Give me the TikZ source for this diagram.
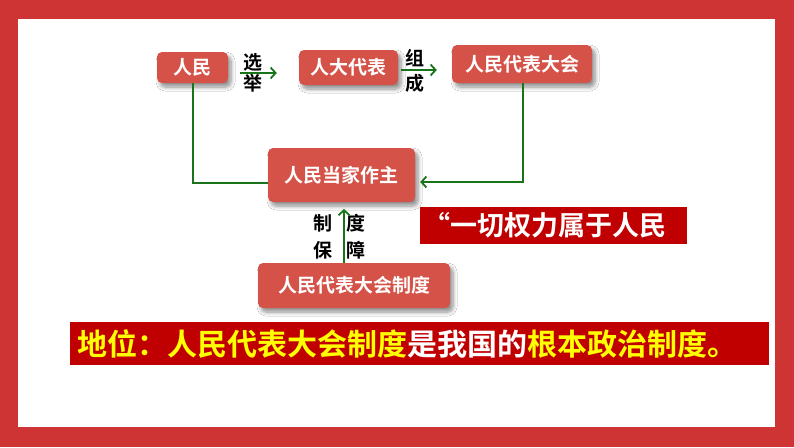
\documentclass[tikz,border=0pt]{standalone}
\usepackage{fontspec}
\setmainfont{Noto Sans CJK SC}[BoldFont={Noto Sans CJK SC Bold}]
\usetikzlibrary{shadows.blur,arrows.meta}
\definecolor{framered}{RGB}{207,52,52}
\definecolor{boxred}{RGB}{212,82,72}
\definecolor{darkred}{RGB}{192,0,0}
\definecolor{grn}{RGB}{25,115,25}
\definecolor{yel}{RGB}{255,255,0}
\tikzset{
 rbox/.style={fill=boxred, rounded corners=5pt, text=white, inner sep=0pt,
   font=\bfseries\fontsize{19}{19}\selectfont,
   blur shadow={shadow xshift=3pt, shadow yshift=-4pt, shadow blur steps=6, shadow opacity=45, shadow blur radius=4pt}},
 banner/.style={fill=darkred, inner sep=0pt, text=white},
 gline/.style={draw=grn, line width=1.8pt},
 conn/.style={gline, -{Straight Barb[length=5pt,width=11pt,line width=1.8pt]}},
 lbl/.style={font=\bfseries\fontsize{19}{19}\selectfont, text=black, inner sep=0pt},
}
\begin{document}
\begin{tikzpicture}[x=1pt,y=-1pt]
\fill[framered] (0,0) rectangle (794,447);
\fill[white] (18,19) rectangle (775,427);
\useasboundingbox (0,0) rectangle (794,447);

\node[rbox, minimum width=71pt, minimum height=31pt] (min1) at (192.5,67.5) {人民};
\node[rbox, minimum width=99pt, minimum height=35pt] (dbd) at (348.5,67.5) {人大代表};
\node[rbox, minimum width=140pt, minimum height=38pt] (rdh) at (522,64) {人民代表大会};
\node[rbox, minimum width=147pt, minimum height=54pt] (zz) at (341.5,175) {人民当家作主};
\node[rbox, minimum width=192pt, minimum height=45pt] (zd) at (354,285.5) {人民代表大会制度};

\node[banner, minimum width=267pt, minimum height=37pt, font=\bfseries\fontsize{27}{27}\selectfont] (quote) at (553.5,225.5) {\hspace*{-18pt}“一切权力属于人民};
\node[banner, minimum width=699pt, minimum height=43pt] (pos) at (419.5,343.5) {};
\node[anchor=west, inner sep=0pt, font=\bfseries\fontsize{30}{30}\selectfont] (postext) at (77,343.5)
  {{\color{yel}地位：人民代表大会制度}{\color{white}是我国的}{\color{yel}根本政治制度。}};

\node[lbl] (x1) at (253,62) {选};
\node[lbl] (x2) at (253,83) {举};
\node[lbl] (z1) at (415,58) {组};
\node[lbl] (z2) at (415,83) {成};
\node[lbl] (c1) at (323,223) {制};
\node[lbl] (c2) at (323,250) {保};
\node[lbl] (c3) at (356,223) {度};
\node[lbl] (c4) at (356,250) {障};

\draw[conn] ([xshift=12pt,yshift=-5.5pt]min1.east) -- ([xshift=-22pt,yshift=-5.5pt]dbd.west);
\draw[conn] ([xshift=3pt,yshift=-2.5pt]dbd.east) -- ([xshift=-15pt,yshift=-6pt]rdh.west);
\draw[gline] ([xshift=0.5pt]min1.south) |- ([yshift=-8pt]zz.west);
\draw[conn] ([xshift=1pt]rdh.south) |- ([xshift=5pt,yshift=-7pt]zz.east);
\coordinate (uptip) at (344,209);
\draw[conn] (zd.north -| uptip) -- (uptip);
\end{tikzpicture}
\end{document}
